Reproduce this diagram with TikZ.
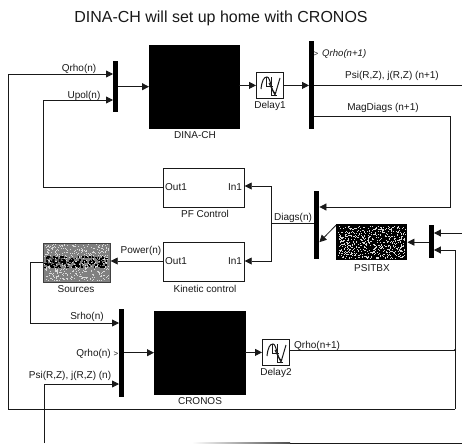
\documentclass[tikz,border=0pt]{standalone}
\usepackage{fontspec}
\setmainfont{Liberation Sans}
\usetikzlibrary{arrows.meta}
\definecolor{ink}{gray}{0.1}
\tikzset{
  x=1pt,y=-1pt,
  wire/.style={draw=ink,line width=0.8pt},
  flow/.style={wire,-{Triangle[length=7pt,width=7pt]}},
  solid block/.style={fill=black,draw=black,inner sep=0pt,anchor=north west},
  bus/.style={fill=black,draw=none,inner sep=0pt,anchor=north west,minimum width=5pt},
  ctrl/.style={draw=ink,line width=0.7pt,fill=white,inner sep=0pt,anchor=north west,minimum width=81pt,minimum height=39pt},
  delaybox/.style={draw=ink,line width=0.8pt,fill=white,inner sep=0pt,anchor=north west,minimum width=27pt,minimum height=26pt},
  lab/.style={font=\fontsize{10pt}{11pt}\selectfont,inner sep=0pt,text=ink},
  tinylab/.style={font=\fontsize{8pt}{9pt}\selectfont,inner sep=0pt,text=ink},
}
\newcommand{\delayicon}[1]{%
  \draw[ink,line width=1pt] ([shift={(5,17)}]#1.north west) .. controls ([shift={(6,8)}]#1.north west) and ([shift={(8,5)}]#1.north west) .. ([shift={(11,5)}]#1.north west) .. controls ([shift={(15,5)}]#1.north west) and ([shift={(15,22)}]#1.north west) .. ([shift={(20,21)}]#1.north west);
  \draw[ink,line width=1pt] ([shift={(13,11)}]#1.north west) -- ([shift={(19,23)}]#1.north west) -- ([shift={(24,6)}]#1.north west);
  \draw[ink,line width=1pt] ([shift={(10,5)}]#1.north west) -- ([shift={(10,14)}]#1.north west) -- ([shift={(17,14)}]#1.north west);
  \draw[ink,line width=1pt] ([shift={(15,5)}]#1.north west) -- ([shift={(15,23)}]#1.north west) -- ([shift={(21,23)}]#1.north west);
}
\begin{document}
\begin{tikzpicture}
\useasboundingbox (0,0) rectangle (462,444);
\fill[white] (0,0) rectangle (462,444);
\pgfmathsetseed{4242}

\node[inner sep=0pt,font=\fontsize{16pt}{18pt}\selectfont,text=ink] (title) at (221,18) {DINA-CH will set up home with CRONOS};

% blocks
\node[solid block,minimum width=90pt,minimum height=83pt] (dina) at (149,45) {};
\node[lab] (dinal) at (195,135) {DINA-CH};
\node[solid block,minimum width=91pt,minimum height=83pt] (cronos) at (154,311) {};
\node[lab] (cronosl) at (200,401) {CRONOS};

\node[bus,minimum height=51pt] (mux1) at (113,61) {};
\node[bus,minimum height=88pt] (mux2) at (309,41) {};
\node[bus,minimum height=68pt] (mux3) at (314,191) {};
\node[bus,minimum height=33pt,minimum width=4.5pt] (mux4) at (429,225) {};
\node[bus,minimum height=88pt] (mux5) at (119,309) {};

\node[delaybox] (d1) at (256,72) {};
\delayicon{d1}
\node[lab] (d1l) at (270,106) {Delay1};
\node[delaybox] (d2) at (262,339) {};
\delayicon{d2}
\node[lab] (d2l) at (276,373) {Delay2};

\node[ctrl] (pf) at (163,168) {};
\node[lab] (pfo) at (176,187) {Out1};
\node[lab] (pfi) at (235,187) {In1};
\node[lab] (pfl) at (205,214) {PF Control};
\node[ctrl] (kin) at (163,242) {};
\node[lab] (kino) at (176,261) {Out1};
\node[lab] (kini) at (235,261) {In1};
\node[lab] (kinl) at (205,289) {Kinetic control};

% Sources: speckled grey block
\node[draw=black!75,line width=0.7pt,inner sep=0pt,anchor=north west,minimum width=67pt,minimum height=39pt,fill=black!50] (src) at (43,243) {};
\foreach \i in {1,...,500}{
  \pgfmathsetmacro{\px}{44+64.5*rnd}
  \pgfmathsetmacro{\py}{244+36.5*rnd}
  \fill[white!85!black] (\px,\py) rectangle ++(1,1);
}
\foreach \i in {1,...,170}{
  \pgfmathsetmacro{\px}{44+64*rnd}
  \pgfmathsetmacro{\py}{256+11*rnd}
  \fill[black] (\px,\py) rectangle ++(1.5,1.5);
}
\node[lab] (srco) at (54,261) {Out};
\node[lab] (srcl) at (76,289) {Sources};

% PSITBX: speckled black block
\node[inner sep=0pt,anchor=north west,minimum width=71pt,minimum height=36pt,fill=black] (psi) at (336,224) {};
\foreach \i in {1,...,620}{
  \pgfmathsetmacro{\px}{338+67*rnd}
  \pgfmathsetmacro{\py}{226+32*rnd}
  \fill[white!85!black] (\px,\py) rectangle ++(1,1);
}
\node[lab] (psil) at (372,268) {PSITBX};

% coordinates
\coordinate (q1) at (8,74);
\coordinate (q2) at (8,409);
\coordinate (q3) at (455,409);
\coordinate (q4) at (455,250);
\coordinate (jn) at (455,350);
\coordinate (u1) at (43,100);
\coordinate (u2) at (43,187);
\coordinate (m1) at (450,116);
\coordinate (m2) at (450,207);
\coordinate (dg1) at (271,186);
\coordinate (dg2) at (271,261);
\coordinate (dgm) at (271,223);
\coordinate (s1) at (30,262);
\coordinate (s2) at (30,323);
\coordinate (p1) at (44,384);
\coordinate (p2) at (44,443);
\coordinate (pf2) at (290,443);
\coordinate (p3) at (462,443);
\coordinate (pr) at (462,85);
\coordinate (top) at (462,233);

% connectors
\draw[flow] (q3) -- (q2) -- (q1) -- (q1 -| mux1.west);
\draw[wire] (q3) -- (q4);
\draw[flow] (q4) -- (q4 -| mux4.east);
\draw[flow] (pf.west |- u2) -- (u2) -- (u1) -- (u1 -| mux1.west);
\draw[flow] (mux1.east |- dina.west) -- (dina.west);
\draw[flow] (dina.east |- d1.west) -- (d1.west);
\draw[flow] (d1.east) -- (d1.east -| mux2.west);
\draw[wire] (mux2.east |- pr) -- (pr);
\draw[flow] (mux2.east |- m1) -- (m1) -- (m2) -- (m2 -| mux3.east);
\draw[flow] (mux3.west |- dgm) -- (dgm) -- (dg1) -- (dg1 -| pf.east);
\draw[flow] (dgm) -- (dg2) -- (dg2 -| kin.east);
\draw[flow] (kin.west |- dg2) -- (dg2 -| src.east);
\draw[flow] (src.west |- s1) -- (s1) -- (s2) -- (s2 -| mux5.west);
\draw[flow] (mux5.east |- cronos.west) -- (cronos.west);
\draw[flow] (cronos.east |- d2.west) -- (d2.west);
\draw[wire] (d2.east |- jn) -- (jn);
\draw[flow] (p2) -- (p1) -- (p1 -| mux5.west);
\shade[left color=white,right color=black!70] (192,442.6) rectangle (290,443.4);
\draw[wire] (pf2) -- (p3);
\draw[flow] (psi.west |- mux3.east) -- (mux3.east |- psi.west);
\draw[flow] (mux4.west |- psi.east) -- (psi.east);
\draw[flow] (top) -- (top -| mux4.east);
\fill[ink] (jn) circle (1.2pt);

% signal labels
\node[lab] (l1) at (79,69) {Qrho(n)};
\node[lab] (l2) at (84,96) {Upol(n)};
\node[lab,font=\fontsize{9.6pt}{11pt}\selectfont\itshape,anchor=west] (l3) at (322,54) {Qrho(n+1)};
\node[tinylab,anchor=center] (l3m) at (316,54) {>};
\node[lab] (l4) at (392,76) {Psi(R,Z), j(R,Z) (n+1)};
\node[lab] (l5) at (383,108) {MagDiags (n+1)};
\node[lab] (l6) at (293,218) {Diags(n)};
\node[lab] (l7) at (141,251) {Power(n)};
\node[lab] (l8) at (87,317) {Srho(n)};
\node[lab,anchor=east] (l9) at (111,354) {Qrho(n)};
\node[tinylab] (l9m) at (116,354) {>};
\node[lab] (l10) at (70,376) {Psi(R,Z), j(R,Z) (n)};
\node[lab,anchor=west] (l11) at (294,346) {Qrho(n+1)};
\end{tikzpicture}
\end{document}
